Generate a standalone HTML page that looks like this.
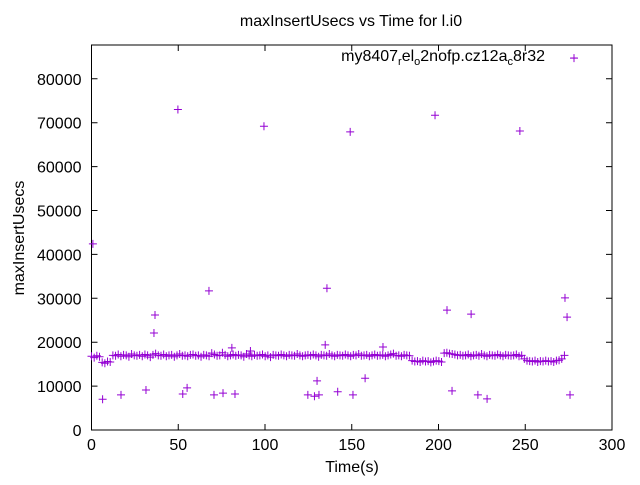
<!DOCTYPE html>
<html><head><meta charset="utf-8"><style>body{margin:0;background:#fff}svg{font-family:"Liberation Sans",sans-serif}</style></head>
<body>
<svg id="chart" width="640" height="480" xmlns="http://www.w3.org/2000/svg">
<rect width="640" height="480" fill="#fff"/>
<text x="351" y="26" font-size="16" text-anchor="middle">maxInsertUsecs vs Time for l.i0</text>
<text transform="translate(24,238) rotate(-90)" font-size="16" text-anchor="middle">maxInsertUsecs</text>
<text x="352" y="472" font-size="16" text-anchor="middle">Time(s)</text>
<g id="axes"></g>
<g id="marks"></g>
<text x="545" y="61" font-size="16" text-anchor="end">my8407<tspan font-size="11" dy="4">r</tspan><tspan dy="-4">el</tspan><tspan font-size="11" dy="4">o</tspan><tspan dy="-4">2nofp.cz12a</tspan><tspan font-size="11" dy="4">c</tspan><tspan dy="-4">8r32</tspan></text>
<path d="M570.5 58h7M574 54.5v7" stroke="#9400d3" stroke-width="1"/>
</svg>
<script>
const xTicks=[0,50,100,150,200,250,300];
const yTicks=[0,10000,20000,30000,40000,50000,60000,70000,80000];
const bandStep=1.54;
const bandValues=[16800,16500,16900,16700,15400,15200,15600,15500,
17000,16900,17200,16800,17100,17000,16700,17300,17000,16900,17100,16800,17200,17000,16600,17100,17400,17000,16900,17200,16800,17000,17100,16700,17000,17300,16900,17000,16800,17100,17200,16900,17000,16700,17100,17000,16800,17500,17200,16900,17000,17600,17100,16800,17000,17200,16900,17100,17000,16700,17300,17000,16800,17100,16900,17000,17200,16800,17000,16600,17100,17000,16900,17200,17000,16800,17100,17000,16900,17300,17000,16800,17000,17100,16900,17200,17000,16700,17100,17000,16900,17300,17000,16800,17100,17000,16900,17200,17000,16800,17100,17000,17300,16900,17000,17100,16800,17000,17200,16900,17000,17100,16800,17000,17200,17400,16900,17000,16800,17100,17000,16900,
15800,15600,15700,15500,15800,15600,15700,15400,15600,15800,15700,15500,
17500,17600,17400,17300,17200,17000,
17100,16900,17000,17200,16800,17000,17100,16900,17300,17000,16800,17100,17000,16900,17200,17000,16800,17100,17000,16900,17000,17200,16800,17000,
16200,15800,15700,15600,15800,15500,15700,15600,15800,15600,15700,15500,15800,15900,16200,
17000];
const outX=[0.8,6.4,17,31.4,36,36.6,49.8,52.6,55.1,67.7,70.6,75.8,80.9,82.7,91.6,99.4,124.7,128.5,130,131.1,134.7,135.7,141.9,149.1,150.7,157.7,168,198,204.9,207.8,218.8,222.7,228,246.9,272.9,274.1,275.8,278.1];
const outY=[42400,7000,8000,9100,22100,26200,73000,8200,9600,31700,8000,8400,18700,8200,18000,69200,8000,7700,11200,8000,19400,32300,8700,67900,8000,11800,18900,71700,27300,8900,26400,8000,7100,68100,30100,25700,8000,84700];
const X0=91.5,X1=612,Y0=430,Y1=45;
const sx=v=>X0+(v-0)/(300-0)*(X1-X0);
const sy=v=>Y0-(v-0)/(87700-0)*(Y0-Y1);
const NS="http://www.w3.org/2000/svg";
const axes=document.getElementById('axes'),marks=document.getElementById('marks');
function mk(t,a,p){const e=document.createElementNS(NS,t);for(const k in a)e.setAttribute(k,a[k]);p.appendChild(e);return e;}
const frame=mk('rect',{x:X0,y:Y1,width:X1-X0,height:Y0-Y1,fill:'none',stroke:'#000','stroke-width':1},axes);


xTicks.forEach(v=>{const x=sx(v);
 const t=mk('path',{d:`M${x} ${Y0}v-6M${x} ${Y1}v6`,stroke:'#000'},axes);
 
 
 const l=mk('text',{x:x,y:Y0+20,'font-size':16,'text-anchor':'middle'},axes);l.textContent=v;
 
 });
yTicks.forEach(v=>{const y=sy(v);
 const t=mk('path',{d:`M${X0} ${y}h6M${X1} ${y}h-6`,stroke:'#000'},axes);
 
 
 const l=mk('text',{x:X0-10,y:y+6,'font-size':16,'text-anchor':'end'},axes);l.textContent=v;
 
 });
function plus(xv,yv){const x=sx(xv),y=sy(yv);
 const p=mk('path',{d:`M${x-4} ${y}h8M${x} ${y-4}v8`,stroke:'#9400d3','stroke-width':1},marks);
 
 }
bandValues.forEach((v,i)=>plus(i*bandStep,v));
outX.forEach((v,i)=>plus(v,outY[i]));
</script>
</body></html>
